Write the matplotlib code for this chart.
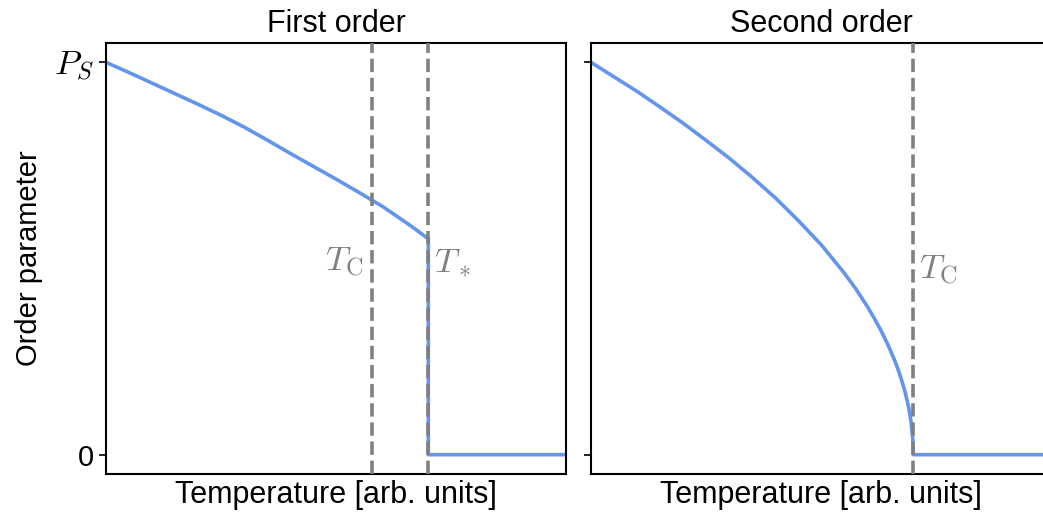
import numpy as np
import matplotlib
matplotlib.use('Agg')
import matplotlib.pyplot as plt

plt.rcParams['font.family'] = ['Liberation Sans', 'DejaVu Sans']
plt.rcParams['mathtext.fontset'] = 'cm'
plt.rcParams['font.size'] = 21

# First order transition: order parameter up to the jump at T*
t_first = [0.0, 0.05, 0.1, 0.15, 0.2, 0.25, 0.3, 0.35, 0.4, 0.45, 0.5,
           0.55, 0.6, 0.65, 0.675, 0.7]
p_first = [1.0, 0.974, 0.947, 0.920, 0.893, 0.865, 0.835, 0.802, 0.768,
           0.735, 0.702, 0.668, 0.633, 0.593, 0.572, 0.550]

# Second order transition: continuous drop to zero at T_C
t_second = [0.0, 0.05, 0.1, 0.15, 0.2, 0.25, 0.3, 0.35, 0.4, 0.45, 0.5,
            0.55, 0.575, 0.6, 0.615, 0.63, 0.645, 0.66, 0.67, 0.68, 0.685,
            0.69, 0.695, 0.699, 0.7]
p_second = [1.0, 0.963, 0.926, 0.886, 0.845, 0.801, 0.756, 0.707, 0.655,
            0.597, 0.535, 0.463, 0.423, 0.378, 0.348, 0.316, 0.280, 0.239,
            0.207, 0.169, 0.146, 0.120, 0.085, 0.038, 0.0]

t_end = 1.0
tc_first = 0.578
tstar_first = 0.7
tc_second = 0.7

yticks = [0, 1]
yticklabels = ['0', '$P_S$']

line_color = 'cornflowerblue'
mark_color = 'gray'


def main():
    fig = plt.figure(figsize=(10.43, 5.22), dpi=100)
    ax1 = fig.add_axes([0.1016, 0.0914, 0.4415, 0.8268])
    ax2 = fig.add_axes([0.5666, 0.0914, 0.4415, 0.8268], sharey=ax1)

    # first order: curve, jump down at T*, then flat zero
    x1 = t_first + [tstar_first, t_end]
    y1 = p_first + [0.0, 0.0]
    ax1.plot(x1, y1, color=line_color, lw=2.6, zorder=2)
    for tv in (tc_first, tstar_first):
        ax1.axvline(tv, color=mark_color, ls='--', lw=2.6, zorder=3)
    ax1.text(tc_first - 0.02, 0.49, r'$T_\mathrm{C}$', color=mark_color,
             fontsize=25, ha='right', va='center')
    ax1.text(tstar_first + 0.012, 0.49, r'$T_*$', color=mark_color,
             fontsize=25, ha='left', va='center')
    ax1.set_title('First order', fontsize=22, pad=8)
    ax1.set_ylabel('Order parameter', labelpad=8)

    # second order
    x2 = t_second + [t_end]
    y2 = p_second + [0.0]
    ax2.plot(x2, y2, color=line_color, lw=2.6, zorder=2)
    ax2.axvline(tc_second, color=mark_color, ls='--', lw=2.6, zorder=3)
    ax2.text(tc_second + 0.012, 0.47, r'$T_\mathrm{C}$', color=mark_color,
             fontsize=25, ha='left', va='center')
    ax2.set_title('Second order', fontsize=22, pad=8)

    for ax in (ax1, ax2):
        ax.set_xlim(0, t_end)
        ax.set_ylim(-0.05, 1.05)
        ax.set_xticks([])
        ax.set_xlabel('Temperature [arb. units]', fontsize=22)
        for sp in ax.spines.values():
            sp.set_linewidth(1.5)
        ax.tick_params(axis='y', width=1.2, length=5)

    ax1.set_yticks(yticks)
    ax1.set_yticklabels(yticklabels)
    ax1.get_yticklabels()[1].set_fontsize(25)
    ax2.tick_params(axis='y', labelleft=False)

    fig.savefig('out.png', dpi=100)


if __name__ == '__main__':
    main()
